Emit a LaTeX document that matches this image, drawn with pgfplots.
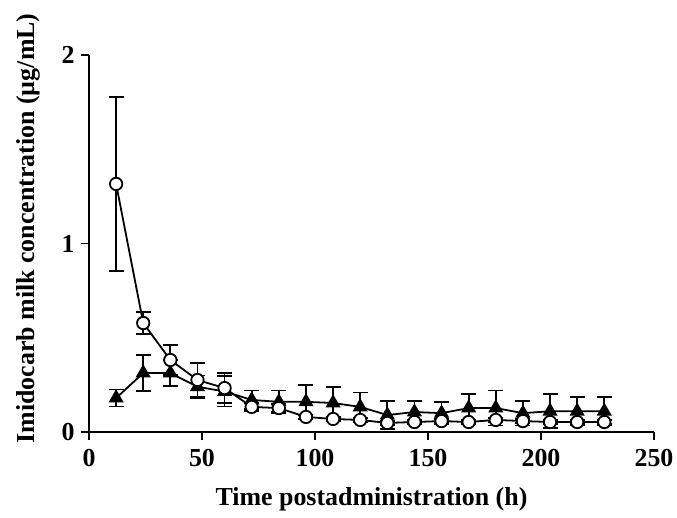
\documentclass[border=0pt]{standalone}
\usepackage{pgfplots}
\pgfplotsset{compat=1.18}
\usepackage{fontspec}
\setmainfont{Liberation Serif}
\begin{document}
\begin{tikzpicture}
\begin{axis}[
  name=ax,
  scale only axis,
  width=565bp, height=377bp,
  xmin=0, xmax=250, ymin=0, ymax=2,
  axis x line*=bottom, axis y line*=left,
  axis line style={line width=2.2pt, -},
  xtick={0,50,100,150,200,250},
  ytick={0,1,2},
  tick style={line width=2pt, black},
  tick align=outside,
  major tick length=8bp,
  /pgf/number format/assume math mode=true,
  ticklabel style={font=\fontsize{26}{28}\selectfont\bfseries},
  yticklabel style={xshift=-3bp},
  xticklabel style={yshift=-6bp},
  xlabel={Time postadministration (h)},
  ylabel={Imidocarb milk concentration (\textmu g/mL)},
  label style={font=\fontsize{26}{28}\selectfont\bfseries},
  xlabel style={yshift=-14bp},
  ylabel style={yshift=14bp, xshift=15bp},
  clip=false,
]
\addplot[black, line width=1.8pt, mark=triangle*, mark size=7pt,
  mark options={solid, fill=black},
  error bars/.cd, y dir=both, y explicit,
  error bar style={line width=1.8pt, black},
  error mark options={rotate=90, mark size=7.5bp, line width=1.8pt, black}]
  coordinates {
  (12,0.18) +- (0,0.045)
  (24,0.313) +- (0,0.095)
  (36,0.313) +- (0,0.07)
  (48,0.24) +- (0,0.06)
  (60,0.215) +- (0,0.08)
  (72,0.17) +- (0,0.05)
  (84,0.16) +- (0,0.06)
  (96,0.16) +- (0,0.09)
  (108,0.154) +- (0,0.086)
  (120,0.133) +- (0,0.077)
  (132,0.09) +- (0,0.075)
  (144,0.106) +- (0,0.06)
  (156,0.10) +- (0,0.06)
  (168,0.127) +- (0,0.073)
  (180,0.127) +- (0,0.093)
  (192,0.10) +- (0,0.065)
  (204,0.11) +- (0,0.09)
  (216,0.11) +- (0,0.075)
  (228,0.11) +- (0,0.075)
  };
\addplot[black, line width=1.8pt, mark=*, mark size=6.2bp,
  mark options={solid, fill=white, line width=1.8pt},
  error bars/.cd, y dir=both, y explicit,
  error bar style={line width=1.8pt, black},
  error mark options={rotate=90, mark size=7.5bp, line width=1.8pt, black}]
  coordinates {
  (12,1.316) +- (0,0.46)
  (24,0.578) +- (0,0.06)
  (36,0.382) +- (0,0.08)
  (48,0.276) +- (0,0.09)
  (60,0.233) +- (0,0.08)
  (72,0.133) +- (0,0.02)
  (84,0.127) +- (0,0.02)
  (96,0.080) +- (0,0.01)
  (108,0.069) +- (0,0.01)
  (120,0.064) +- (0,0.01)
  (132,0.048) +- (0,0.01)
  (144,0.053) +- (0,0.01)
  (156,0.058) +- (0,0.01)
  (168,0.053) +- (0,0.01)
  (180,0.064) +- (0,0.01)
  (192,0.058) +- (0,0.01)
  (204,0.053) +- (0,0.01)
  (216,0.053) +- (0,0.01)
  (228,0.053) +- (0,0.01)
  };
\end{axis}
\pgfresetboundingbox
\path[use as bounding box] ([shift={(-89bp,-86bp)}]ax.south west) rectangle ([shift={(588bp,432bp)}]ax.south west);
\end{tikzpicture}
\end{document}
